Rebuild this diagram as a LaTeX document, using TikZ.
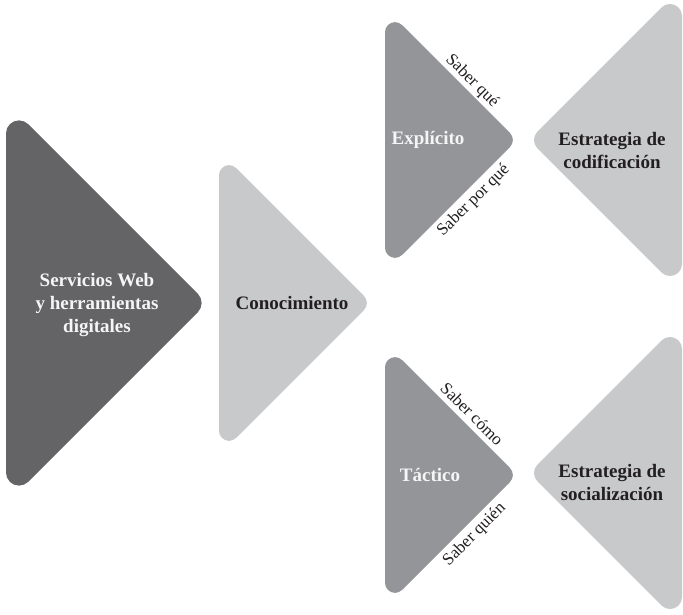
\documentclass[tikz,border=0pt]{standalone}
\usepackage{fontspec}
\setmainfont{Liberation Serif}
% Right-pointing triangle with circular corners.
% #1 fill style, #2 left edge x, #3 centre y, #4 half height (= width), #5 corner radius
\newcommand{\pointright}[5]{%
  \fill[#1] (#2,{#3+#4-2.414*#5}) -- (#2,{#3-#4+2.414*#5}) arc (180:315:#5)
    -- ({#2+#4-0.707*#5},{#3-0.707*#5}) arc (-45:45:#5)
    -- ({#2+1.707*#5},{#3+#4-1.707*#5}) arc (45:180:#5) -- cycle;}
% Left-pointing triangle with circular corners.
% #1 fill style, #2 right edge x, #3 centre y, #4 half height (= width), #5 corner radius
\newcommand{\pointleft}[5]{%
  \fill[#1] (#2,{#3-#4+2.414*#5}) arc (0:-135:#5)
    -- ({#2-#4+0.707*#5},{#3-0.707*#5}) arc (-135:-225:#5)
    -- ({#2-1.707*#5},{#3+#4-1.707*#5}) arc (135:0:#5) -- cycle;}
\begin{document}
\begin{tikzpicture}[x=1pt,y=-1pt,
  darkgray/.style={fill={rgb,255:red,100;green,100;blue,102}},
  midgray/.style={fill={rgb,255:red,147;green,149;blue,152}},
  lightgray/.style={fill={rgb,255:red,200;green,201;blue,203}},
  title/.style={align=center,inner sep=0pt,font=\bfseries\fontsize{19}{23}\selectfont},
  titlelight/.style={title,text={rgb,255:red,245;green,245;blue,245}},
  titledark/.style={title,text={rgb,255:red,35;green,31;blue,32}},
  edgelabel/.style={inner sep=0pt,text={rgb,255:red,35;green,31;blue,32},font=\fontsize{17}{20}\selectfont}]
\useasboundingbox (0,0) rectangle (683,615);
\clip (0,0) rectangle (683,615);

% triangles pointing right
\pointright{darkgray}{6}{303}{201}{13}
\pointright{lightgray}{219}{303}{152}{10}
\pointright{midgray}{385}{140}{132}{10}
\pointright{midgray}{385}{475}{132}{10}

% triangles pointing left
\pointleft{lightgray}{682}{140}{153}{12}
\pointleft{lightgray}{682}{473}{153}{12}

% titles
\node[titlelight] (web) at (97,305) {Servicios Web\\y herramientas\\digitales};
\node[titledark] (con) at (292,303) {Conocimiento};
\node[titlelight] (exp) at (428,140) {Explícito};
\node[titlelight] (tac) at (430,475) {Táctico};
\node[titledark] (cod) at (612,151) {Estrategia de\\codificación};
\node[titledark] (soc) at (612,482) {Estrategia de\\socialización};

% labels along the slanted edges, just outside them
\node[edgelabel, rotate=-45, anchor=base] (que) at (469,84) {Saber qué};
\node[edgelabel, rotate=45, anchor=north] (porque) at (468,195) {Saber por qué};
\node[edgelabel, rotate=-45, anchor=base] (como) at (468,418) {Saber cómo};
\node[edgelabel, rotate=45, anchor=north] (quien) at (469,529) {Saber quién};
\end{tikzpicture}
\end{document}
